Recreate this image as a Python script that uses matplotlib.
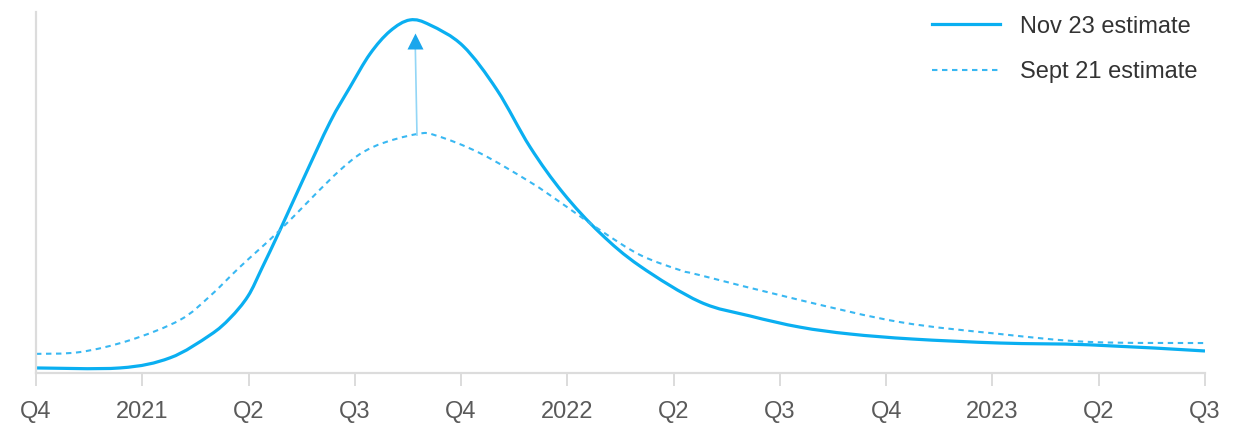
import matplotlib.pyplot as plt
from matplotlib.path import Path
from matplotlib.patches import PathPatch
from matplotlib.lines import Line2D

# x in quarters from Q4 2020, y in arbitrary units (0-100)
tick_labels = ['Q4', '2021', 'Q2', 'Q3', 'Q4', '2022', 'Q2', 'Q3', 'Q4', '2023', 'Q2', 'Q3']

nov_x = [0.000, 0.790, 1.261, 1.637, 1.826, 1.995, 2.127, 2.296, 2.512, 2.767,
         2.955, 3.143, 3.331, 3.519, 3.708, 4.018, 4.338, 4.649, 4.959, 5.307, 5.684,
         6.248, 6.719, 7.189, 7.660, 8.253, 9.071, 9.918, 11.0]
nov_y = [1.4, 1.4, 4.2, 10.5, 15.2, 21.3, 29.1, 39.6, 53.5, 69.5,
         79.2, 88.4, 94.7, 97.8, 96.4, 90.6, 78.4, 62.6, 49.9, 38.8, 29.6,
         19.7, 15.8, 12.7, 10.8, 9.4, 8.3, 7.8, 6.1]

sep_x = [0.000, 0.414, 0.885, 1.355, 1.637, 1.920, 2.296, 2.861, 3.171, 3.585, 3.773,
         4.178, 4.649, 4.903, 5.307, 5.684, 6.060, 6.248, 7.189, 8.130, 9.071, 9.918, 11.0]
sep_y = [5.3, 5.8, 9.1, 14.7, 21.3, 29.4, 39.6, 56.2, 62.6, 66.2, 65.7,
         60.9, 52.9, 47.9, 39.6, 32.7, 28.5, 27.1, 20.2, 14.1, 10.8, 8.6, 8.3]

arrow_from = (3.585, 65.9)
arrow_to = (3.568, 92.0)

blue = '#0AAFF1'
blue_dash = '#39B8F2'
grey = '#dcdcdc'


def smooth_path(xs, ys):
    # bezier path through the points (catmull-rom style handles)
    pts = list(zip(xs, ys))
    verts = [pts[0]]
    codes = [Path.MOVETO]
    n = len(pts)
    for i in range(n - 1):
        p0 = pts[i - 1] if i > 0 else pts[i]
        p1 = pts[i]
        p2 = pts[i + 1]
        p3 = pts[i + 2] if i + 2 < n else p2
        c1 = (p1[0] + (p2[0] - p0[0]) / 6, p1[1] + (p2[1] - p0[1]) / 6)
        c2 = (p2[0] - (p3[0] - p1[0]) / 6, p2[1] - (p3[1] - p1[1]) / 6)
        verts += [c1, c2, p2]
        codes += [Path.CURVE4] * 3
    return Path(verts, codes)


plt.rcParams['font.family'] = ['Liberation Sans', 'DejaVu Sans']

fig = plt.figure(figsize=(12.43, 4.24), dpi=100)
ax = fig.add_axes([36 / 1243, 51 / 424, 1169 / 1243, 361 / 424])

ax.add_patch(PathPatch(smooth_path(nov_x, nov_y), fill=False, edgecolor=blue,
                       lw=2.3, capstyle='butt'))
ax.add_patch(PathPatch(smooth_path(sep_x, sep_y), fill=False, edgecolor=blue_dash,
                       lw=1.5, linestyle=(0, (2.6, 2.2))))

# arrow between the peaks
ax.plot([arrow_from[0], arrow_to[0]], [arrow_from[1], arrow_to[1]], color='#93D6F6', lw=1.2)
ax.plot([arrow_to[0]], [arrow_to[1]], marker='^', ms=11, color='#1AA6EC', mec='none')

ax.set_xlim(0, 11)
ax.set_ylim(0, 100)
ax.set_xticks(range(len(tick_labels)))
ax.set_xticklabels(tick_labels)
ax.set_yticks([])
ax.tick_params(axis='x', length=9, width=1.4, color=grey, pad=11,
               labelsize=17, labelcolor='#5a5a5a')

for side in ['top', 'right']:
    ax.spines[side].set_visible(False)
for side in ['left', 'bottom']:
    ax.spines[side].set_color(grey)
    ax.spines[side].set_linewidth(1.6)

handles = [Line2D([], [], color=blue, lw=2.3),
           Line2D([], [], color=blue_dash, lw=1.5, dashes=(2.6, 2.2))]
leg = ax.legend(handles, ['Nov 23 estimate', 'Sept 21 estimate'],
                loc='upper right', bbox_to_anchor=(1.012, 1.049), frameon=False,
                fontsize=17, handlelength=2.9, handletextpad=0.85, labelspacing=1.0)
for t in leg.get_texts():
    t.set_color('#333333')

fig.savefig('out.png', dpi=100)
